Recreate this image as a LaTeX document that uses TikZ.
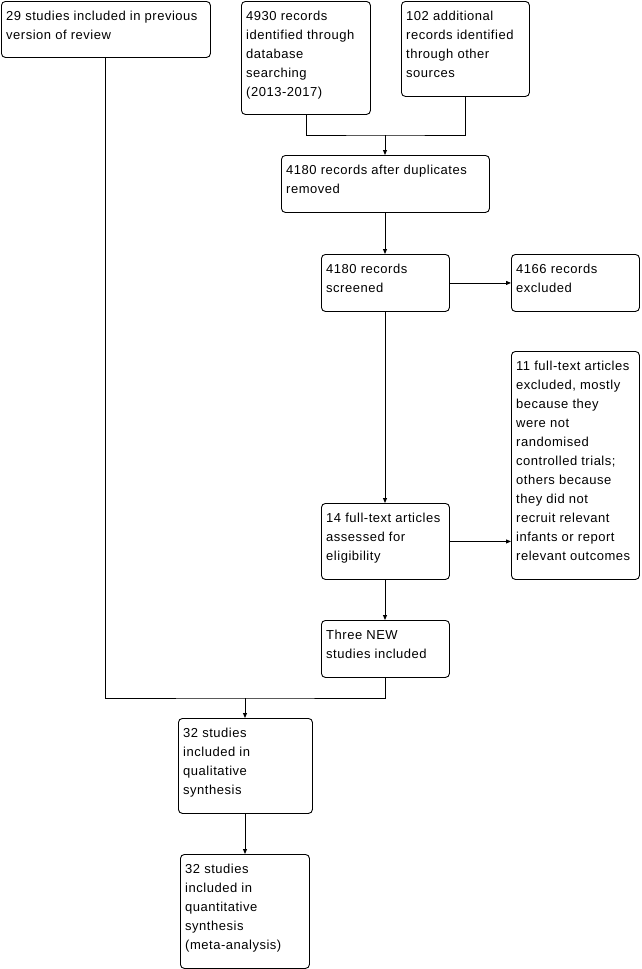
\documentclass[tikz,border=0pt]{standalone}
\usepackage{fontspec}
\setmainfont[LetterSpace=4]{Liberation Sans}
\usetikzlibrary{arrows.meta}
\tikzset{
  box/.style={draw, line width=0.9pt, rounded corners=4pt, inner sep=0pt, anchor=north west},
  txt/.style={inner sep=0pt, anchor=base west, font=\fontsize{13}{19}\selectfont},
  conn/.style={line width=0.9pt},
  arr/.style={line width=0.9pt, -{Triangle[length=5pt,width=4pt]}}
}
\newcommand\pbox[6]{%
  \node[box, minimum width=#4pt, minimum height=#5pt] (#1) at (#2,#3) {};
  \node[txt] (#1t) at ([xshift=5pt,yshift=-19pt]#1.north west) {\begin{tabular}[t]{@{}l@{}}#6\end{tabular}};
}
\begin{document}
\begin{tikzpicture}[x=1pt,y=-1pt]
\useasboundingbox (0,0) rectangle (642,969);
\pbox{b1}{1}{1}{209}{56}{29 studies included in previous\\version of review}
\pbox{b2}{241}{1}{129}{113}{4930 records\\identified through\\database\\searching\\(2013-2017)}
\pbox{b3}{401}{1}{128}{95}{102 additional\\records identified\\through other\\sources}
\pbox{b4}{281}{155}{208}{57}{4180 records after duplicates\\removed}
\pbox{b5}{321}{254}{128}{57}{4180 records\\screened}
\pbox{b6}{511}{254}{128}{57}{4166 records\\excluded}
\pbox{b7}{511}{351}{128}{228}{11 full-text articles\\excluded, mostly\\because they\\were not\\randomised\\controlled trials;\\others because\\they did not\\recruit relevant\\infants or report\\relevant outcomes}
\pbox{b8}{321}{503}{128}{76}{14 full-text articles\\assessed for\\eligibility}
\pbox{b9}{321}{620}{128}{57}{Three NEW\\studies included}
\pbox{b10}{178}{718}{134}{95}{32 studies\\included in\\qualitative\\synthesis}
\pbox{b11}{180}{854}{129}{114}{32 studies\\included in\\quantitative\\synthesis\\(meta-analysis)}
% merges
\coordinate (m1) at (385,135);
\coordinate (m2) at (245,698);
\draw[conn] (b2.south) |- (m1) -| (b3.south);
\draw[arr] (m1) -- (b4.north -| m1);
\draw[arr] (b4.south -| m1) -- (b5.north -| m1);
\draw[arr] (b5.east) -- (b6.west);
\draw[arr] (b5.south -| m1) -- (b8.north -| m1);
\draw[arr] (b8.east) -- (b7.west |- b8.east);
\draw[arr] (b8.south -| m1) -- (b9.north -| m1);
\draw[conn] (b1.south -| 105,0) |- (m2) -| (b9.south -| m1);
\draw[arr] (m2) -- (b10.north -| m2);
\draw[arr] (b10.south -| m2) -- (b11.north -| m2);
\end{tikzpicture}
\end{document}
